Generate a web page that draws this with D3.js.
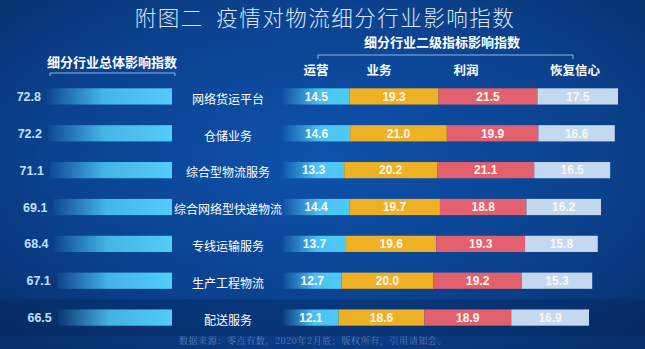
<!DOCTYPE html>
<html>
<head>
<meta charset="utf-8">
<script src="https://cdn.jsdelivr.net/npm/d3@7"></script>
<style>
  body { margin: 0; background: #0b3f8f; }
  svg { display: block; font-family: "Noto Sans CJK SC", "Noto Sans", sans-serif; }
</style>
</head>
<body>
<div id="chart"></div>
<script>
// data
const industries = ["网络货运平台", "仓储业务", "综合型物流服务", "综合网络型快递物流", "专线运输服务", "生产工程物流", "配送服务"];
const overall = [72.8, 72.2, 71.1, 69.1, 68.4, 67.1, 66.5];
const subNames = ["运营", "业务", "利润", "恢复信心"];
const operation = [14.5, 14.6, 13.3, 14.4, 13.7, 12.7, 12.1];
const business = [19.3, 21.0, 20.2, 19.7, 19.6, 20.0, 18.6];
const profit = [21.5, 19.9, 21.1, 18.8, 19.3, 19.2, 18.9];
const confidence = [17.5, 16.6, 16.5, 16.2, 15.8, 15.3, 16.9];

const width = 645, height = 349;
const colors = ["url(#cyanGrad)", "#eeb024", "#e3606f", "#c4d9ef"];

const svg = d3.select("#chart")
  .append("svg")
    .attr("width", width)
    .attr("height", height);

const defs = svg.append("defs");

// background
const bg = defs.append("radialGradient").attr("id", "bgGrad")
  .attr("cx", "50%").attr("cy", "45%").attr("r", "70%");
bg.append("stop").attr("offset", "0%").attr("stop-color", "#0e52ad");
bg.append("stop").attr("offset", "60%").attr("stop-color", "#0b428f");
bg.append("stop").attr("offset", "100%").attr("stop-color", "#08306e");

const cyan = defs.append("linearGradient").attr("id", "cyanGrad")
  .attr("x1", "0%").attr("x2", "100%");
cyan.append("stop").attr("offset", "0%").attr("stop-color", "#4ec9f6").attr("stop-opacity", 0.05);
cyan.append("stop").attr("offset", "55%").attr("stop-color", "#4ec9f6").attr("stop-opacity", 0.95);
cyan.append("stop").attr("offset", "100%").attr("stop-color", "#4fcaf7");

const cyanLeft = defs.append("linearGradient").attr("id", "leftGrad")
  .attr("x1", "0%").attr("x2", "100%");
cyanLeft.append("stop").attr("offset", "0%").attr("stop-color", "#4ec9f6").attr("stop-opacity", 0.05);
cyanLeft.append("stop").attr("offset", "45%").attr("stop-color", "#4ec9f6").attr("stop-opacity", 0.85);
cyanLeft.append("stop").attr("offset", "100%").attr("stop-color", "#52ccf8");

svg.append("rect")
  .attr("width", width).attr("height", height)
  .attr("fill", "url(#bgGrad)");

// title
svg.append("text")
  .attr("x", 325).attr("y", 26)
  .attr("text-anchor", "middle")
  .attr("fill", "#dce7f5")
  .style("font-size", "21.5px")
  .style("font-weight", 300)
  .style("letter-spacing", "1.5px")
  .text("附图二\u00a0\u00a0疫情对物流细分行业影响指数");

// rows
const y = d3.scaleBand()
  .domain(industries)
  .range([78, 336])
  .paddingInner(0.56)
  .paddingOuter(0.28);

// darker band behind last row
svg.append("rect")
  .attr("x", 0).attr("width", width)
  .attr("y", y(industries[6]) - 10).attr("height", y.bandwidth() + 20)
  .attr("fill", "#04214f").attr("opacity", 0.3);

// left: overall index
const xl = d3.scaleLinear().domain([0, 72.8]).range([0, 125]);
const leftEnd = 172;

svg.append("text")
  .attr("x", 112).attr("y", 67)
  .attr("text-anchor", "middle")
  .attr("fill", "#ffffff")
  .style("font-size", "13px")
  .style("font-weight", "bold")
  .text("细分行业总体影响指数");

svg.append("path")
  .attr("d", "M50,76 V73 H175 V76")
  .attr("fill", "none")
  .attr("stroke", "#8fb4e6")
  .attr("stroke-width", 1);

svg.selectAll(".lbar")
  .data(overall)
  .enter()
  .append("rect")
    .attr("x", d => leftEnd - xl(d))
    .attr("y", (d, i) => y(industries[i]))
    .attr("width", d => xl(d))
    .attr("height", y.bandwidth())
    .attr("fill", "url(#leftGrad)");

svg.selectAll(".lval")
  .data(overall)
  .enter()
  .append("text")
    .attr("x", d => leftEnd - xl(d) - 6)
    .attr("y", (d, i) => y(industries[i]) + y.bandwidth() / 2)
    .attr("dy", "0.36em")
    .attr("text-anchor", "end")
    .attr("fill", "#bfe2ff")
    .style("font-size", "12.5px")
    .style("font-weight", "bold")
    .style("font-family", "Arial, 'Liberation Sans', sans-serif")
    .text(d => d.toFixed(1));

// category labels
svg.selectAll(".cat")
  .data(industries)
  .enter()
  .append("text")
    .attr("x", 228)
    .attr("y", d => y(d) + y.bandwidth() / 2 + 3)
    .attr("dy", "0.36em")
    .attr("text-anchor", "middle")
    .attr("fill", "#ffffff")
    .style("font-size", "12px")
    .text(d => d);

// right: stacked sub indexes
const table = industries.map((name, i) => ({
  name: name,
  "运营": operation[i],
  "业务": business[i],
  "利润": profit[i],
  "恢复信心": confidence[i]
}));
const stacked = d3.stack().keys(subNames)(table);

const xr = d3.scaleLinear().domain([0, 72.8]).range([283, 618]);

svg.append("text")
  .attr("x", 442).attr("y", 47)
  .attr("text-anchor", "middle")
  .attr("fill", "#ffffff")
  .style("font-size", "13px")
  .style("font-weight", "bold")
  .text("细分行业二级指标影响指数");

svg.append("path")
  .attr("d", "M318,59 V55 H573 V59")
  .attr("fill", "none")
  .attr("stroke", "#8fb4e6")
  .attr("stroke-width", 1);

const headX = [316, 379, 466, 575];
svg.selectAll(".head")
  .data(subNames)
  .enter()
  .append("text")
    .attr("x", (d, i) => headX[i])
    .attr("y", 75)
    .attr("text-anchor", "middle")
    .attr("fill", "#ffffff")
    .style("font-size", "12.5px")
    .style("font-weight", "bold")
    .text(d => d);

const layers = svg.selectAll(".layer")
  .data(stacked)
  .enter()
  .append("g")
    .attr("fill", (d, i) => colors[i]);

layers.selectAll("rect")
  .data(d => d)
  .enter()
  .append("rect")
    .attr("x", d => xr(d[0]))
    .attr("y", d => y(d.data.name))
    .attr("width", d => xr(d[1]) - xr(d[0]))
    .attr("height", y.bandwidth());

layers.selectAll("text")
  .data(d => d.map(s => ({ s: s, key: d.key })))
  .enter()
  .append("text")
    .attr("x", d => (xr(d.s[0]) + xr(d.s[1])) / 2)
    .attr("y", d => y(d.s.data.name) + y.bandwidth() / 2)
    .attr("dy", "0.36em")
    .attr("text-anchor", "middle")
    .attr("fill", "#fdf6f0")
    .style("font-size", "12px")
    .style("font-weight", "bold")
    .style("font-family", "Arial, 'Liberation Sans', sans-serif")
    .text(d => d.s.data[d.key].toFixed(1));

// source note
svg.append("text")
  .attr("x", 313).attr("y", 344)
  .attr("text-anchor", "middle")
  .attr("fill", "#5f80b8")
  .style("font-size", "9px")
  .style("font-family", "'Noto Serif CJK SC', 'DejaVu Serif', serif")
  .style("letter-spacing", "0.6px")
  .text("数据来源：零点有数，2020年2月底；版权所有，引用请知会。");
</script>
</body>
</html>
